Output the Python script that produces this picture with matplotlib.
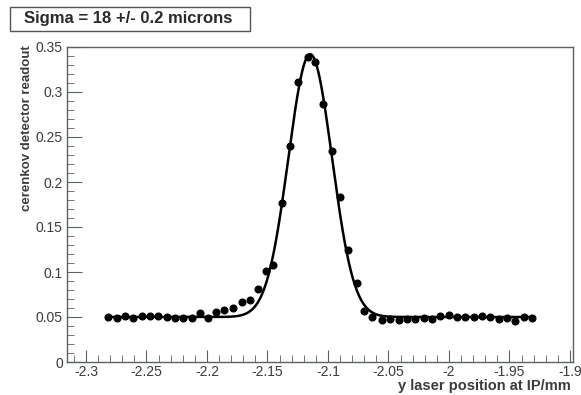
import numpy as np
import matplotlib
matplotlib.use("Agg")
import matplotlib.pyplot as plt
from matplotlib.patches import Rectangle
from matplotlib.ticker import MultipleLocator

plt.rcParams["font.family"] = ["Liberation Sans", "DejaVu Sans"]

# Measured points: laser y position (mm) and detector readout
y_pos = [
    -2.2816, -2.2747, -2.2678, -2.2609, -2.2540, -2.2471, -2.2402, -2.2333,
    -2.2264, -2.2196, -2.2127, -2.2058, -2.1989, -2.1926, -2.1857, -2.1783,
    -2.1714, -2.1645, -2.1576, -2.1512, -2.1452, -2.1383, -2.1314, -2.1245,
    -2.1166, -2.1107, -2.1038, -2.0969, -2.0900, -2.0831, -2.0762, -2.0705,
    -2.0636, -2.0555, -2.0486, -2.0417, -2.0348, -2.0279, -2.0210, -2.0141,
    -2.0072, -2.0003, -1.9934, -1.9865, -1.9796, -1.9727, -1.9658, -1.9589,
    -1.9520, -1.9451, -1.9382, -1.9313,
]
readout = [
    0.0496, 0.0485, 0.0511, 0.0485, 0.0511, 0.0515, 0.0511, 0.0496,
    0.0485, 0.0485, 0.0485, 0.0540, 0.0485, 0.0556, 0.0574, 0.0604,
    0.0667, 0.0693, 0.0815, 0.1010, 0.1080, 0.1770, 0.2400, 0.3110,
    0.3390, 0.3330, 0.2870, 0.2340, 0.1830, 0.1240, 0.0880, 0.0570,
    0.0500, 0.0470, 0.0480, 0.0470, 0.0480, 0.0480, 0.0490, 0.0480,
    0.0510, 0.0520, 0.0500, 0.0500, 0.0500, 0.0510, 0.0500, 0.0480,
    0.0490, 0.0460, 0.0500, 0.0490,
]

# Gaussian + constant fit parameters (mm)
fit_mean = -2.1147
fit_sigma = 0.018
fit_amp = 0.292
fit_const = 0.050

title_text = "Sigma = 18 +/- 0.2 microns"
xlabel = "y laser position at IP/mm"
ylabel = "cerenkov detector readout"

W, H = 581, 395
fig = plt.figure(figsize=(W / 100, H / 100), dpi=100)
ax = fig.add_axes([67 / W, 1 - 362 / H, (573 - 67) / W, (362 - 47) / H])

axis_col = "#5a6262"
text_col = "#3c3c3c"

xf = np.linspace(min(y_pos), max(y_pos), 600)
yf = fit_const + fit_amp * np.exp(-0.5 * ((xf - fit_mean) / fit_sigma) ** 2)
ax.plot(xf, yf, color="black", lw=1.8, zorder=2)
ax.plot(y_pos, readout, "o", color="black", ms=4.8, zorder=3)

ax.set_xlim(-2.3157, -1.8975)
ax.set_ylim(0, 0.35)

ax.xaxis.set_major_locator(MultipleLocator(0.05))
ax.xaxis.set_minor_locator(MultipleLocator(0.01))
ax.yaxis.set_major_locator(MultipleLocator(0.05))
ax.yaxis.set_minor_locator(MultipleLocator(0.01))
ax.xaxis.set_major_formatter(plt.FuncFormatter(lambda v, p: f"{v:g}"))
ax.yaxis.set_major_formatter(plt.FuncFormatter(lambda v, p: f"{round(v, 2):g}"))

ax.tick_params(axis="both", which="both", direction="in", color=axis_col,
               labelcolor=text_col, labelsize=10, top=False, right=False)
ax.tick_params(axis="x", which="major", length=9, pad=2)
ax.tick_params(axis="y", which="major", length=11, pad=3)
ax.tick_params(axis="both", which="minor", length=5)
for s in ax.spines.values():
    s.set_color(axis_col)
    s.set_linewidth(1.0)

fig.text(571 / W, 1 - 386 / H, xlabel, ha="right", va="center",
         fontsize=10.5, fontweight="bold", color=text_col)
fig.text(27 / W, 1 - 45 / H, ylabel, ha="center", va="top", rotation=90,
         fontsize=9.5, fontweight="bold", color=text_col)

fig.patches.append(Rectangle((10 / W, 1 - 31 / H), 240 / W, 24 / H,
                             transform=fig.transFigure, fill=False,
                             edgecolor="#555555", lw=1.0))
fig.text(128 / W, 1 - 19 / H, title_text, ha="center", va="center",
         fontsize=12, fontweight="bold", color="#2a2a2a")

fig.savefig("out.png", dpi=100)
